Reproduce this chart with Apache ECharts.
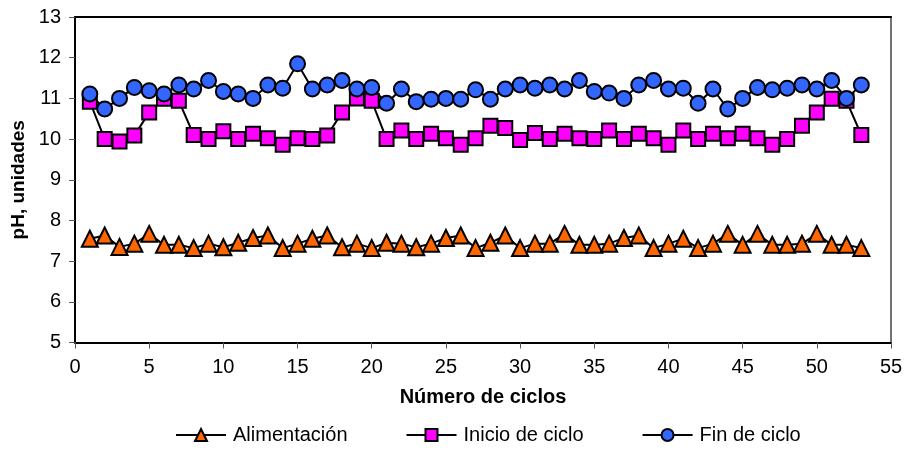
<!DOCTYPE html>
<html>
<head>
<meta charset="utf-8">
<script src="https://cdn.jsdelivr.net/npm/echarts@6/dist/echarts.min.js"></script>
<style>
  html, body { margin: 0; padding: 0; background: #fff; }
  #chart { width: 906px; height: 452px; }
</style>
</head>
<body>
<div id="chart"></div>
<script>
// Cycle numbers 1..53
const ciclos = [1,2,3,4,5,6,7,8,9,10,11,12,13,14,15,16,17,18,19,20,21,22,23,24,25,26,27,
  28,29,30,31,32,33,34,35,36,37,38,39,40,41,42,43,44,45,46,47,48,49,50,51,52,53];

// pH of the feed
const alimentacion = [7.55,7.63,7.35,7.43,7.67,7.40,7.40,7.32,7.43,7.34,7.45,7.57,7.63,7.32,7.43,7.55,7.63,7.34,
  7.43,7.32,7.45,7.43,7.34,7.43,7.57,7.63,7.32,7.45,7.63,7.32,7.43,7.43,7.67,7.40,7.40,7.43,
  7.57,7.63,7.32,7.43,7.55,7.32,7.43,7.67,7.40,7.67,7.40,7.40,7.43,7.67,7.40,7.40,7.32];

// pH at the start of each cycle
const inicioCiclo = [10.92,10.00,9.94,10.09,10.65,10.99,10.94,10.10,10.00,10.19,10.00,10.13,10.02,9.86,10.02,10.00,10.09,10.65,
  11.00,10.94,10.00,10.21,10.00,10.13,10.02,9.86,10.02,10.33,10.27,9.98,10.15,10.00,10.13,10.02,10.00,10.21,
  10.00,10.13,10.02,9.86,10.21,10.00,10.13,10.02,10.13,10.02,9.86,10.00,10.33,10.65,10.99,10.94,10.10];

// pH at the end of each cycle
const finCiclo = [11.11,10.74,11.00,11.27,11.19,11.11,11.33,11.23,11.44,11.17,11.11,11.00,11.33,11.25,11.85,11.23,11.33,11.44,
  11.23,11.27,10.88,11.23,10.92,10.98,11.00,10.98,11.21,10.98,11.23,11.33,11.25,11.33,11.23,11.44,11.17,11.13,
  11.00,11.33,11.44,11.23,11.25,10.88,11.23,10.74,11.00,11.27,11.21,11.25,11.33,11.23,11.44,11.00,11.33];

const pairs = ys => ciclos.map((c, i) => [c, ys[i]]);

const FONT = '"Liberation Sans", Arial, sans-serif';
const chart = echarts.init(document.getElementById('chart'), null, { renderer: 'canvas' });

const lineSeries = (name, data, symbol, size, color) => ({
  name, type: 'line', data: pairs(data),
  symbol, symbolSize: size,
  lineStyle: { color: '#000', width: 2 },
  itemStyle: { color, borderColor: '#000', borderWidth: 2 },
  emphasis: { disabled: true },
  animation: false,
  xAxisIndex: 0, yAxisIndex: 0
});

chart.setOption({
  animation: false,
  backgroundColor: '#fff',
  grid: { left: 75, right: 15, top: 17, bottom: 109.5, containLabel: false },
  xAxis: [{
    type: 'value', min: 0, max: 55, interval: 5,
    name: 'Número de ciclos', nameLocation: 'middle', nameGap: 45,
    nameTextStyle: { fontFamily: FONT, fontSize: 20, fontWeight: 'bold', color: '#000' },
    axisLine: { onZero: false, lineStyle: { color: '#000', width: 2 } },
    axisTick: { show: true, inside: false, length: 6, lineStyle: { color: '#555', width: 1 } },
    axisLabel: { fontFamily: FONT, fontSize: 20, color: '#000', margin: 15 },
    splitLine: { show: false }
  }, {
    type: 'value', min: 0, max: 55, position: 'top',
    axisLine: { show: true, onZero: false, lineStyle: { color: '#000', width: 2 } },
    axisTick: { show: false }, axisLabel: { show: false }, splitLine: { show: false }
  }],
  yAxis: [{
    type: 'value', min: 5, max: 13, interval: 1,
    name: 'pH, unidades', nameLocation: 'middle', nameGap: 45,
    nameTextStyle: { fontFamily: FONT, fontSize: 19, fontWeight: 'bold', color: '#000' },
    axisLine: { show: true, onZero: false, lineStyle: { color: '#000', width: 2 } },
    axisTick: { show: true, inside: false, length: 6, lineStyle: { color: '#555', width: 1 } },
    axisLabel: { fontFamily: FONT, fontSize: 20, color: '#000', margin: 14 },
    splitLine: { show: false }
  }, {
    type: 'value', min: 5, max: 13, position: 'right',
    axisLine: { show: true, onZero: false, lineStyle: { color: '#444', width: 1.5 } },
    axisTick: { show: false }, axisLabel: { show: false }, splitLine: { show: false }
  }],
  legend: {
    left: 170, bottom: 2,
    itemWidth: 50, itemHeight: 15, itemGap: 58,
    textStyle: { fontFamily: FONT, fontSize: 20, color: '#000', padding: [0, 0, 0, 2] },
    data: ['Alimentación', 'Inicio de ciclo', 'Fin de ciclo']
  },
  series: [
    lineSeries('Alimentación', alimentacion, 'triangle', 16, '#FF6600'),
    lineSeries('Inicio de ciclo', inicioCiclo, 'rect', 14, '#FF00FF'),
    lineSeries('Fin de ciclo', finCiclo, 'circle', 15, '#3366FF')
  ]
});
</script>
</body>
</html>
